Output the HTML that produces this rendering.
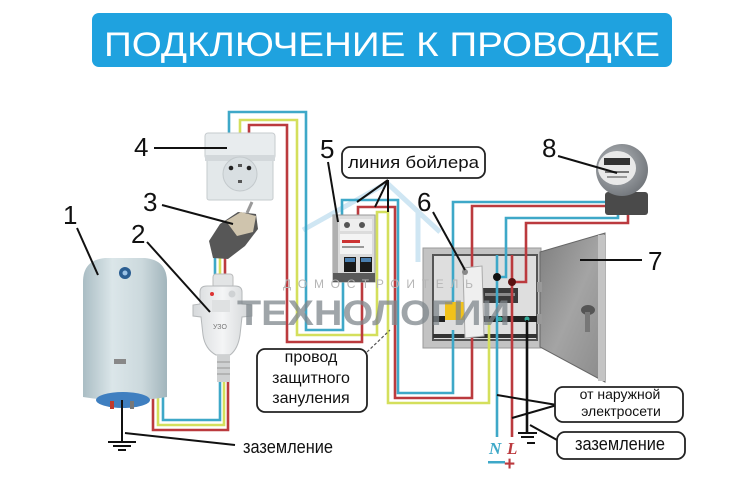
<!DOCTYPE html>
<html><head><meta charset="utf-8">
<style>
html,body{margin:0;padding:0;background:#fff;}
svg{display:block}
text{font-family:"Liberation Sans","DejaVu Sans",sans-serif}
</style></head><body>
<svg width="750" height="500" viewBox="0 0 750 500" xmlns="http://www.w3.org/2000/svg">
<defs>
 <linearGradient id="gb" x1="0" y1="0" x2="1" y2="0">
  <stop offset="0" stop-color="#aabdc4"/><stop offset="0.35" stop-color="#dbe6e9"/>
  <stop offset="0.7" stop-color="#ccd9dd"/><stop offset="1" stop-color="#a2b5bc"/>
 </linearGradient>
 <linearGradient id="gd" x1="0" y1="0" x2="1" y2="1">
  <stop offset="0" stop-color="#7e7e7e"/><stop offset="0.5" stop-color="#a4a4a4"/><stop offset="1" stop-color="#8a8a8a"/>
 </linearGradient>
 <radialGradient id="gm" cx="0.4" cy="0.4" r="0.7">
  <stop offset="0" stop-color="#b8bcc0"/><stop offset="1" stop-color="#6c7075"/>
 </radialGradient>
 <linearGradient id="gu" x1="0" y1="0" x2="1" y2="0">
  <stop offset="0" stop-color="#d6d9db"/><stop offset="0.5" stop-color="#f4f5f6"/><stop offset="1" stop-color="#d0d3d5"/>
 </linearGradient>
</defs>

<!-- title -->
<rect x="92" y="13" width="580" height="54" rx="7" fill="#1fa2df"/>
<text x="104" y="56" font-size="34" fill="#fff" textLength="556" lengthAdjust="spacingAndGlyphs">ПОДКЛЮЧЕНИЕ К ПРОВОДКЕ</text>

<!-- house watermark -->
<g stroke="#cfe6f3" stroke-width="5" fill="none">
 <path d="M303,230 L387,183 L440,232"/>
 <path d="M418,212 V262"/>
</g>

<!-- panel 7 -->
<rect x="423" y="248" width="118" height="100" fill="#c3c3c3" stroke="#9a9a9a"/>
<rect x="433" y="255" width="104" height="85" fill="#dedede" stroke="#555" stroke-width="2"/>
<rect x="482" y="288" width="36" height="15" fill="#3a3a3a"/>
<rect x="485" y="293" width="30" height="3" fill="#8a8a8a"/>
<rect x="433" y="316" width="104" height="6" fill="#222"/>
<circle cx="500" cy="319" r="2.5" fill="#3a9"/>
<circle cx="527" cy="319" r="2.5" fill="#3a9"/>
<rect x="433" y="334" width="104" height="4" fill="#333"/>
<!-- door -->
<polygon points="540,252 605,233 605,382 540,347" fill="url(#gd)" stroke="#666"/>
<rect x="598" y="235" width="7" height="146" fill="#c4c4c4"/>
<rect x="537" y="282" width="5" height="10" fill="#999"/>
<rect x="537" y="314" width="5" height="10" fill="#999"/>
<ellipse cx="588" cy="310" rx="7" ry="5" fill="#555"/>
<rect x="585" y="312" width="5" height="20" fill="#777"/>

<!-- wires -->
<g fill="none" stroke-width="2.6" stroke-linejoin="miter">
 <!-- socket loop -->
 <path d="M229,135 V112 H306 V330 H343 V282" stroke="#3ea8c8"/>
 <path d="M240,135 V120 H297 V335 H377 V212 H388 V403 H489 V322" stroke="#d4df5c"/>
 <path d="M249,135 V125 H287 V342 H362 V282" stroke="#bb3a3e"/>
 <!-- breaker top / meter -->
 <path d="M342,216 V200 H398 V393 H453 V202 H613" stroke="#3ea8c8"/>
 <path d="M358,216 V207 H395 V398 H472 V206 H623" stroke="#bb3a3e"/>
 <path d="M618,212 V218 H506 V277 H497" stroke="#3ea8c8"/>
 <path d="M497,255 V437" stroke="#3ea8c8"/>
 <path d="M628,214 V223 H526 V282 H512" stroke="#bb3a3e"/>
 <path d="M512,255 V437" stroke="#bb3a3e"/>
 <path d="M527,320 V433" stroke="#111"/>
 <!-- uzo to boiler -->
 <path d="M220,380 V420 H163 V396" stroke="#3ea8c8"/>
 <path d="M224,380 V425 H158 V396" stroke="#d4df5c"/>
 <path d="M228,380 V430 H153 V396" stroke="#bb3a3e"/>
 <!-- plug to uzo -->
 <path d="M215,256 V278" stroke="#3ea8c8"/>
 <path d="M220,256 V278" stroke="#d4df5c"/>
 <path d="M225,256 V278" stroke="#bb3a3e"/>
</g>
<circle cx="497" cy="277" r="4" fill="#111"/>
<circle cx="512" cy="282" r="4" fill="#5a1010"/>

<!-- breaker 6 in panel -->
<rect x="445" y="302" width="19" height="18" fill="#f2c21a"/>
<rect x="445" y="320" width="19" height="10" fill="#ddd"/>
<polygon points="463,268 482,266 484,336 465,338" fill="#efefef" stroke="#aaa"/>
<circle cx="465" cy="272" r="3" fill="#888"/>

<!-- meter 8 -->
<rect x="605" y="192" width="43" height="23" rx="3" fill="#4a4a4a"/>
<circle cx="622" cy="170" r="26" fill="url(#gm)"/>
<ellipse cx="617" cy="168" rx="19" ry="17" fill="#e9e9e9"/>
<rect x="604" y="158" width="26" height="7" fill="#333"/>
<rect x="605" y="171" width="24" height="2" fill="#777"/>
<rect x="607" y="176" width="20" height="2" fill="#999"/>

<!-- boiler 1 -->
<path d="M83,397 L83,282 Q83,260 105,258 L145,258 Q167,260 167,282 L167,397 Q125,404 83,397 Z" fill="url(#gb)"/>
<circle cx="125" cy="273" r="6" fill="#2b5e92"/>
<circle cx="125" cy="273" r="2.5" fill="#9cc3e6"/>
<rect x="114" y="359" width="12" height="5" fill="#888"/>
<ellipse cx="123" cy="400" rx="27" ry="8" fill="#3f7fc0"/>
<rect x="110" y="401" width="4" height="8" fill="#c0392b"/>
<rect x="130" y="401" width="4" height="8" fill="#777"/>
<!-- ground under boiler -->
<g stroke="#111" stroke-width="2" fill="none">
 <path d="M122,400 V442"/>
 <path d="M108,442 H136 M113,446 H131 M118,450 H126"/>
 <path d="M125,433 L235,445"/>
</g>

<!-- UZO 2 -->
<rect x="213" y="274" width="20" height="14" rx="3" fill="#e2e4e5" stroke="#bbb"/>
<path d="M200,292 Q200,286 207,286 L235,286 Q242,286 242,292 L242,304 L252,305 L252,316 L242,317 L240,335 Q238,349 230,355 L216,355 Q205,349 203,335 L201,317 L193,316 L193,305 L200,304 Z" fill="url(#gu)" stroke="#b5b8ba"/>
<circle cx="212" cy="294" r="2" fill="#d33"/>
<circle cx="232" cy="294" r="3.5" fill="#cfd2d4"/>
<rect x="212" y="300" width="18" height="12" fill="#dfe1e2"/>
<text x="213" y="329" font-size="7" fill="#777">УЗО</text>
<rect x="217" y="355" width="13" height="27" fill="#cfd1d2"/>
<path d="M217,362 H230 M217,368 H230 M217,374 H230" stroke="#aaa" stroke-width="1.5"/>

<!-- plug 3 -->
<path d="M213,258 L209,241 L220,224 L238,212 L256,214 L258,229 L245,246 L228,259 Z" fill="#575757"/>
<path d="M226,221 L241,212 L256,216 L253,232 L237,236 Z" fill="#cfc4ad"/>
<path d="M247,213 L252,202" stroke="#999" stroke-width="3"/>

<!-- socket 4 -->
<rect x="205" y="133" width="70" height="26" rx="3" fill="#e8ecee" stroke="#c6cbce"/>
<rect x="207" y="158" width="66" height="42" rx="2" fill="#e3e8ea" stroke="#c6cbce"/>
<rect x="205" y="155" width="70" height="6" fill="#d3d8db"/>
<circle cx="240" cy="174" r="17" fill="#d9dfe2" stroke="#c3c9cc"/>
<circle cx="231" cy="168" r="2.3" fill="#222"/>
<circle cx="249" cy="168" r="2.3" fill="#222"/>
<rect x="238" y="164" width="4" height="3" fill="#555"/>
<rect x="238" y="180" width="4" height="3" fill="#555"/>

<!-- breaker 5 -->
<rect x="333" y="215" width="42" height="67" fill="#dcdcdc" stroke="#999"/>
<rect x="333" y="215" width="5" height="67" fill="#b0b0b0"/>
<rect x="340" y="219" width="32" height="12" fill="#eee"/>
<circle cx="347" cy="225" r="3" fill="#555"/>
<circle cx="362" cy="225" r="3" fill="#555"/>
<rect x="340" y="234" width="32" height="20" fill="#f4f4f4"/>
<rect x="342" y="240" width="18" height="3" fill="#c33"/>
<rect x="342" y="246" width="22" height="2" fill="#999"/>
<rect x="344" y="257" width="12" height="15" fill="#1a1a1a"/>
<rect x="360" y="257" width="12" height="15" fill="#1a1a1a"/>
<rect x="345" y="258" width="10" height="4" fill="#4a7fb0"/>
<rect x="361" y="258" width="10" height="4" fill="#4a7fb0"/>
<rect x="333" y="273" width="42" height="9" fill="#5a5a5a"/>

<!-- watermark -->
<text x="283" y="288" font-size="12" fill="#b6b6b6" textLength="190" lengthAdjust="spacing">ДОМОСТРОИТЕЛЬ</text>
<text x="237" y="325" font-size="35" font-weight="bold" fill="#7f878c" fill-opacity="0.75" textLength="273" lengthAdjust="spacingAndGlyphs">ТЕХНОЛОГИИ</text>

<!-- ground at panel -->
<g stroke="#111" stroke-width="2" fill="none">
 <path d="M518,433 H537 M521,437 H534"/>
 <path d="M527,443 H535"/>
 <path d="M497,395 L557,405 L512,418"/>
 <path d="M530,425 L557,440"/>
</g>
<text x="489" y="454" font-size="17" font-weight="bold" font-style="italic" font-family="Liberation Serif" fill="#3ea8c8" style="font-family:'Liberation Serif',serif">N</text>
<rect x="488" y="461" width="17" height="2.5" fill="#3ea8c8"/>
<text x="507" y="454" font-size="17" font-weight="bold" font-style="italic" fill="#bb3a3e" style="font-family:'Liberation Serif',serif">L</text>
<text x="504" y="470" font-size="19" font-weight="bold" fill="#bb3a3e">+</text>

<!-- number labels -->
<g font-size="26" fill="#111">
 <text x="63" y="224">1</text>
 <text x="131" y="243">2</text>
 <text x="143" y="211">3</text>
 <text x="134" y="156">4</text>
 <text x="320" y="158">5</text>
 <text x="417" y="211">6</text>
 <text x="648" y="270">7</text>
 <text x="542" y="157">8</text>
</g>
<g stroke="#111" stroke-width="2" fill="none">
 <path d="M77,228 L98,275"/>
 <path d="M147,242 L210,312"/>
 <path d="M162,205 L233,224"/>
 <path d="M154,148 H227"/>
 <path d="M328,162 L338,222"/>
 <path d="M433,212 L465,270"/>
 <path d="M580,260 H642"/>
 <path d="M558,156 L617,173"/>
 <path d="M388,180 L357,202 M388,180 L375,207 M388,180 L388,212"/>
</g>

<!-- label boxes -->
<rect x="342" y="147" width="143" height="31" rx="8" fill="#fff" stroke="#222" stroke-width="1.8"/>
<text x="348" y="168" font-size="17" fill="#111" textLength="131" lengthAdjust="spacingAndGlyphs">линия бойлера</text>

<rect x="257" y="349" width="110" height="63" rx="8" fill="#fff" stroke="#222" stroke-width="1.8"/>
<g font-size="16" fill="#111" text-anchor="middle">
 <text x="311" y="362">провод</text>
 <text x="311" y="383">защитного</text>
 <text x="311" y="403">зануления</text>
</g>
<path d="M367,352 L390,330" stroke="#555" stroke-width="1.2" stroke-dasharray="3,2" fill="none"/>

<text x="243" y="453" font-size="18" fill="#111" textLength="90" lengthAdjust="spacingAndGlyphs">заземление</text>

<rect x="555" y="387" width="128" height="35" rx="8" fill="#fff" stroke="#222" stroke-width="1.8"/>
<g font-size="14" fill="#111" text-anchor="middle">
 <text x="620" y="399">от наружной</text>
 <text x="621" y="416">электросети</text>
</g>
<rect x="557" y="432" width="128" height="27" rx="8" fill="#fff" stroke="#222" stroke-width="1.8"/>
<text x="575" y="450" font-size="18" fill="#111" textLength="90" lengthAdjust="spacingAndGlyphs">заземление</text>
</svg>
</body></html>
